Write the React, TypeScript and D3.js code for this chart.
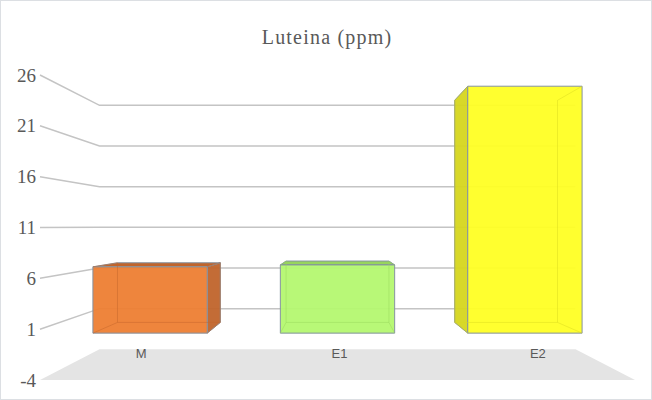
import React from "react";
import * as d3 from "d3";

const W = 652;
const H = 400;

const title = "Luteina (ppm)";
const categories = ["M", "E1", "E2"];
const values = [6.9, 7.1, 25.7];
const tickValues = [-4, 1, 6, 11, 16, 21, 26];
const frontColors = ["#ED7D31", "#B4F86F", "#FFFF22"];
const sideColors = ["#C0642B", "#97D45C", "#D6D61E"];

// simple perspective: front plane k = 1, back wall k = 0.8
const VP: [number, number] = [337.5, 226.5];
const K_BACK = 0.8;
const K_BAR_FRONT = 0.945;
const K_BAR_BACK = 0.85;

type Pt = [number, number];

export default function App() {
  React.useEffect(() => {
    document.body.style.margin = "0";
  }, []);

  const y = d3.scaleLinear().domain([-4, 26]).range([380, 75]);
  const x = d3
    .scaleBand<string>()
    .domain(categories)
    .range([40, 635])
    .paddingInner(0.39)
    .paddingOuter(0.195);

  const proj = (px: number, py: number, k: number): Pt => [
    VP[0] + (px - VP[0]) * k,
    VP[1] + (py - VP[1]) * k,
  ];
  const poly = (pts: Pt[]) => d3.line()(pts) + "Z";

  const [left, right] = x.range();
  const floorY = y(-4);
  const floor = [
    proj(left, floorY, 1),
    proj(right, floorY, 1),
    proj(right, floorY, K_BACK),
    proj(left, floorY, K_BACK),
  ];

  const edge = "#8592a0";

  return (
    <svg
      width={W}
      height={H}
      style={{ display: "block", background: "#fff" }}
    >
      <rect x={0.5} y={0.5} width={W - 1} height={H - 1} fill="#fff" stroke="#dcdfe3" />
      <text
        x={W / 2 + 1}
        y={44}
        textAnchor="middle"
        fontFamily="'Liberation Serif', serif"
        fontSize={20}
        letterSpacing={1.2}
        fill="#595959"
      >
        {title}
      </text>

      {/* floor */}
      <path d={poly(floor)} fill="#e4e4e4" />

      {/* gridlines: side wall + back wall */}
      <g stroke="#c4c4c4" strokeWidth={1.5} fill="none">
        {tickValues
          .filter((t) => t > -4)
          .map((t) => {
            const a = proj(left, y(t), 1);
            const b = proj(left, y(t), K_BACK);
            const c = proj(right, y(t), K_BACK);
            return <path key={t} d={d3.line()([a, b, c]) || ""} />;
          })}
      </g>

      {/* tick labels */}
      <g
        fontFamily="'Liberation Serif', serif"
        fontSize={19}
        fill="#595959"
        textAnchor="end"
      >
        {tickValues.map((t) => (
          <text key={t} x={left - 4} y={y(t)} dominantBaseline="central">
            {t}
          </text>
        ))}
      </g>

      {/* category labels */}
      <g
        fontFamily="'Liberation Sans', Arial, sans-serif"
        fontSize={13}
        fill="#595959"
        textAnchor="middle"
      >
        {categories.map((c) => (
          <text
            key={c}
            x={(x(c) || 0) + x.bandwidth() / 2 + 2}
            y={proj(0, floorY, K_BACK)[1] + 4}
            dominantBaseline="central"
          >
            {c}
          </text>
        ))}
      </g>

      {/* bars */}
      {categories.map((c, i) => {
        const x0 = x(c) || 0;
        const x1 = x0 + x.bandwidth();
        const yb = y(0);
        const yt = y(values[i]);
        const fTL = proj(x0, yt, K_BAR_FRONT);
        const fTR = proj(x1, yt, K_BAR_FRONT);
        const fBR = proj(x1, yb, K_BAR_FRONT);
        const fBL = proj(x0, yb, K_BAR_FRONT);
        const bTL = proj(x0, yt, K_BAR_BACK);
        const bTR = proj(x1, yt, K_BAR_BACK);
        const bBR = proj(x1, yb, K_BAR_BACK);
        const bBL = proj(x0, yb, K_BAR_BACK);
        return (
          <g key={c} stroke={edge} strokeWidth={1} strokeLinejoin="round">
            {x1 < VP[0] && (
              <path d={poly([fTR, bTR, bBR, fBR])} fill={sideColors[i]} fillOpacity={0.95} />
            )}
            {x0 > VP[0] && (
              <path d={poly([fTL, bTL, bBL, fBL])} fill={sideColors[i]} fillOpacity={0.95} />
            )}
            {fTL[1] > VP[1] && (
              <path d={poly([fTL, fTR, bTR, bTL])} fill={sideColors[i]} />
            )}
            <path
              d={poly([fTL, fTR, fBR, fBL])}
              fill={frontColors[i]}
              fillOpacity={0.94}
            />
            {/* hidden back edges seen through the bar */}
            <path
              d={d3.line()([fTR, bTR, bBR, bBL, bTL, fTL]) || ""}
              fill="none"
              stroke={sideColors[i]}
              strokeOpacity={0.45}
            />
            <path
              d={d3.line()([bBR, fBR]) || ""}
              fill="none"
              stroke={sideColors[i]}
              strokeOpacity={0.45}
            />
            <path
              d={d3.line()([bBL, fBL]) || ""}
              fill="none"
              stroke={sideColors[i]}
              strokeOpacity={0.45}
            />
          </g>
        );
      })}
    </svg>
  );
}
